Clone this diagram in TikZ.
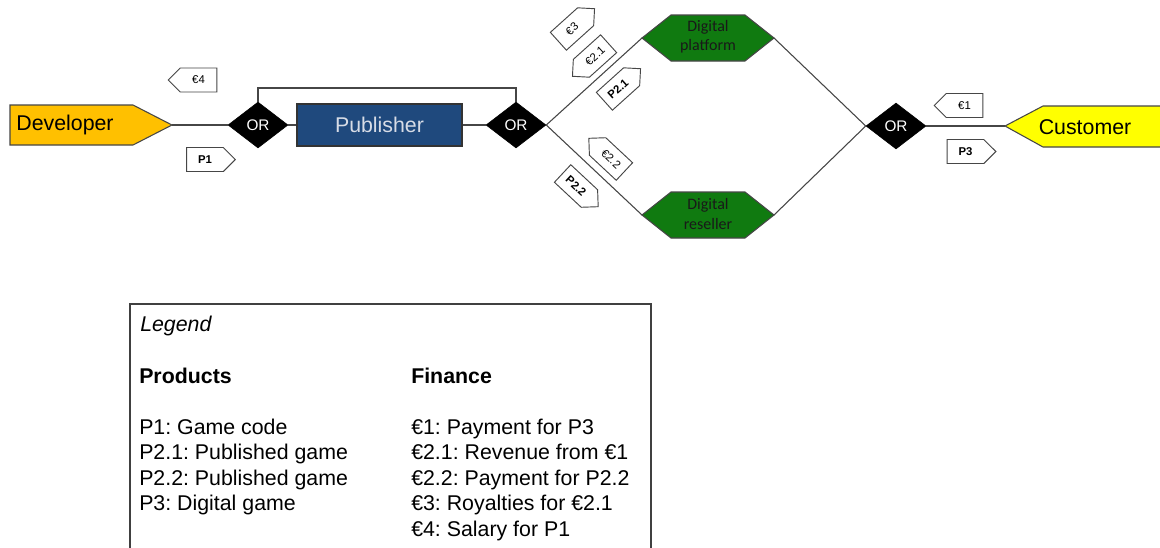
\documentclass[tikz,border=0pt]{standalone}
\usepackage{fontspec}
\setmainfont{Liberation Sans}
\newfontfamily\hexfont{Carlito}
\usetikzlibrary{shapes.geometric,shapes.symbols}
\frenchspacing

\definecolor{devorange}{RGB}{255,192,0}
\definecolor{custyellow}{RGB}{255,255,0}
\definecolor{pubblue}{RGB}{31,73,125}
\definecolor{pubtext}{RGB}{215,220,230}
\definecolor{chgreen}{RGB}{16,122,16}
\definecolor{edgegrey}{RGB}{70,70,70}

\begin{document}
\begin{tikzpicture}[x=0.75pt,y=-0.75pt,
  conn/.style={draw=edgegrey, line width=0.8pt},
  outline/.style={draw=edgegrey, line width=0.8pt},
  label/.style={font=\fontsize{16}{19}\selectfont, inner sep=0pt},
  ornode/.style={diamond, fill=black, draw=black, minimum width=45pt,
    minimum height=34.5pt, inner sep=0pt, text=white,
    font=\fontsize{11.5}{13}\selectfont},
  hextext/.style={font=\hexfont\fontsize{12}{14.5}\selectfont, align=center,
    text=black!90, inner sep=0pt},
  flowtag/.style={signal, draw=edgegrey, fill=white, line width=0.7pt,
    signal pointer angle=90, minimum height=18pt, minimum width=36.5pt,
    inner sep=1pt, font=\fontsize{8.5}{10}\selectfont},
  prodtag/.style={flowtag, font=\bfseries\fontsize{8.5}{10}\selectfont},
  legtext/.style={font=\fontsize{16}{19}\selectfont, anchor=base west, inner sep=0pt}]

\fill[white] (0,0) rectangle (1160,547);
\useasboundingbox (0,0) rectangle (1160,547);

% actors
\draw[outline, fill=devorange] (10,105) -- (133,105) -- (172,125) -- (133,145) -- (10,145) -- cycle;
\coordinate (devtip) at (172,125);
\node[label] (dev) at (65,125) {Developer};

\draw[outline, fill=custyellow] (1165,106) -- (1043,106) -- (1005,126) -- (1043,147) -- (1165,147);
\coordinate (custtip) at (1005,126);
\node[label] (cust) at (1085,127) {Customer};

\node[rectangle, draw=black!80, line width=0.8pt, fill=pubblue, text=pubtext,
  minimum width=123.75pt, minimum height=31.5pt, inner sep=0pt,
  font=\fontsize{16}{19}\selectfont] (pub) at (379.5,125) {Publisher};

% OR gates
\node[ornode] (or1) at (258,125) {OR};
\node[ornode] (or2) at (516,125) {OR};
\node[ornode] (or3) at (896,126) {OR};

% channels
\draw[outline, fill=chgreen] (642,38) -- (671,15) -- (745,15) -- (774,38) -- (745,61) -- (671,61) -- cycle;
\coordinate (dpW) at (642,38);
\coordinate (dpE) at (774,38);
\node[hextext] (dp) at (708,37) {Digital\\platform};

\draw[outline, fill=chgreen] (642,215) -- (671,192) -- (745,192) -- (774,215) -- (745,238) -- (671,238) -- cycle;
\coordinate (drW) at (642,215);
\coordinate (drE) at (774,215);
\node[hextext] (dr) at (708,214) {Digital\\reseller};

% connectors
\draw[conn] (devtip) -- (or1.west);
\draw[conn] (or1.east) -- (pub.west);
\draw[conn] (pub.east) -- (or2.west);
\coordinate (loopL) at (258,88);
\coordinate (loopR) at (516,88);
\draw[conn] (or1.north) -- (loopL) -- (loopR) -- (or2.north);
\draw[conn] (or2.east) -- (dpW);
\draw[conn] (or2.east) -- (drW);
\draw[conn] (dpE) -- (or3.west);
\draw[conn] (drE) -- (or3.west);
\draw[conn] (or3.east) -- (custtip);

% flow tags
\node[flowtag, signal to=west] (t4) at (198.5,80) {€4};
\node[prodtag, signal to=east] (tp1) at (205,159.5) {P1};
\node[flowtag, signal to=west] (t1) at (964.5,105.5) {€1};
\node[prodtag, signal to=east] (tp3) at (965.5,151.5) {P3};
\node[flowtag, signal to=east, rotate=42] (t3) at (572,29) {€3};
\node[flowtag, signal to=west, rotate=42] (t21) at (595,56) {€2.1};
\node[prodtag, signal to=east, rotate=42] (tp21) at (618,89) {P2.1};
\node[flowtag, signal to=west, rotate=-43] (t22) at (611,159) {€2.2};
\node[prodtag, signal to=east, rotate=-43] (tp22) at (576,186) {P2.2};

% legend
\draw[draw=black!75, line width=0.9pt] (130,552) -- (130,304) -- (651,304) -- (651,552);
\node[legtext, font=\itshape\fontsize{16}{19}\selectfont] (lg) at (140,331) {Legend};
\node[legtext, font=\bfseries\fontsize{16}{19}\selectfont] (lp) at (139,383) {Products};
\node[legtext, font=\bfseries\fontsize{16}{19}\selectfont] (lf) at (411,383) {Finance};
\node[legtext] (lp1) at (139,434) {P1: Game code};
\node[legtext] (lp2) at (139,459.5) {P2.1: Published game};
\node[legtext] (lp3) at (139,485) {P2.2: Published game};
\node[legtext] (lp4) at (139,510.5) {P3: Digital game};
\node[legtext] (lf1) at (411,434) {€1: Payment for P3};
\node[legtext] (lf2) at (411,459.5) {€2.1: Revenue from €1};
\node[legtext] (lf3) at (411,485) {€2.2: Payment for P2.2};
\node[legtext] (lf4) at (411,510.5) {€3: Royalties for €2.1};
\node[legtext] (lf5) at (411,536) {€4: Salary for P1};
\end{tikzpicture}
\end{document}
